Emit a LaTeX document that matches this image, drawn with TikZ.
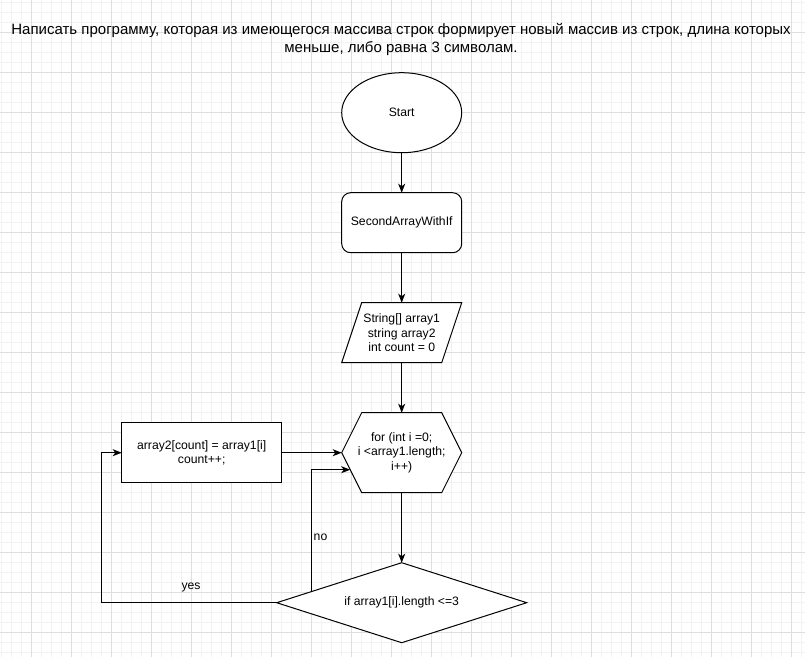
\documentclass[tikz,border=0pt]{standalone}
\usepackage{fontspec}
\setmainfont{Liberation Sans}
\usetikzlibrary{shapes.geometric,arrows.meta,calc}
\definecolor{gridmajor}{RGB}{222,222,222}
\definecolor{gridminor}{RGB}{242,242,242}
\tikzset{
  shapebox/.style={draw=black, fill=white, line width=1pt, inner sep=0pt, outer sep=0pt, align=center, font=\fontsize{12.2pt}{14.6pt}\selectfont},
  plainbox/.style={inner sep=0pt, outer sep=0pt, align=center, font=\fontsize{12.2pt}{14.6pt}\selectfont},
  conn/.style={draw=black, line width=1pt, -{Stealth[length=9pt,width=7pt,inset=2.5pt]}},
  lbl/.style={inner sep=0pt, font=\fontsize{12.2pt}{14.6pt}\selectfont},
  ttl/.style={inner sep=0pt, anchor=base, font=\fontsize{15pt}{18pt}\selectfont}
}
\begin{document}
\begin{tikzpicture}[x=1pt,y=-1pt]
\useasboundingbox (0,0) rectangle (805,657);
\fill[white] (0,0) rectangle (805,657);
% grid
\foreach \i in {0,...,80} {\draw[gridminor,line width=1pt] (1.7+10*\i,0) -- (1.7+10*\i,657);}
\foreach \j in {0,...,65} {\draw[gridminor,line width=1pt] (0,2.7+10*\j) -- (805,2.7+10*\j);}
\foreach \i in {0,...,19} {\draw[gridmajor,line width=1pt] (31.7+40*\i,0) -- (31.7+40*\i,657);}
\foreach \j in {0,...,15} {\draw[gridmajor,line width=1pt] (0,32.7+40*\j) -- (805,32.7+40*\j);}
% title
\node[ttl] (t1) at (401,34) {Написать программу, которая из имеющегося массива строк формирует новый массив из строк, длина которых};
\node[ttl] (t2) at (401,52) {меньше, либо равна 3 символам.};
% shapes
\node[shapebox, ellipse, minimum width=120pt, minimum height=80pt] (start) at (401.7,112.7) {Start};
\node[shapebox, rounded corners=9pt, minimum width=120pt, minimum height=60pt] (func) at (401.7,222.7) {SecondArrayWithIf};
\node[plainbox, minimum width=120pt, minimum height=60pt] (par) at (401.7,332.7) {};
\draw[fill=white, line width=1pt] ($(par.north west)+(20,0)$) -- (par.north east) -- ($(par.south east)-(20,0)$) -- (par.south west) -- cycle;
\node[plainbox] at (par.center) {String[] array1\\string array2\\int count = 0};
\node[plainbox, minimum width=120pt, minimum height=80pt] (hex) at (401.7,452.7) {};
\draw[fill=white, line width=1pt] (hex.west) -- ($(hex.north west)+(20,0)$) -- ($(hex.north east)-(20,0)$) -- (hex.east) -- ($(hex.south east)-(20,0)$) -- ($(hex.south west)+(20,0)$) -- cycle;
\node[plainbox] at (hex.center) {for (int i =0;\\i <array1.length;\\i++)};
\node[shapebox, minimum width=160pt, minimum height=60pt] (body) at (201.7,452.7) {array2[count] = array1[i]\\count++;};
\node[shapebox, diamond, aspect=3.125, minimum width=250pt, minimum height=80pt] (cond) at (401.7,602.7) {if array1[i].length <=3};
% helper coordinates
\coordinate (noStart) at ($(cond.west)!0.28!(cond.north)$);
\coordinate (noEnd) at ($(hex.west)!0.425!($(hex.south west)+(20,0)$)$);
\coordinate (yesCorner) at (101.7,602.7);
% connectors
\draw[conn] (start.south) -- (func.north);
\draw[conn] (func.south) -- (par.north);
\draw[conn] (par.south) -- (hex.north);
\draw[conn] (hex.south) -- (cond.north);
\draw[conn] (body.east) -- (hex.west);
\draw[conn] (cond.west) -- (yesCorner) |- (body.west);
\draw[conn] (noStart) |- (noEnd);
% labels
\node[lbl] (yes) at (191,587) {yes};
\node[lbl] (no) at (320.5,537) {no};
\end{tikzpicture}
\end{document}
